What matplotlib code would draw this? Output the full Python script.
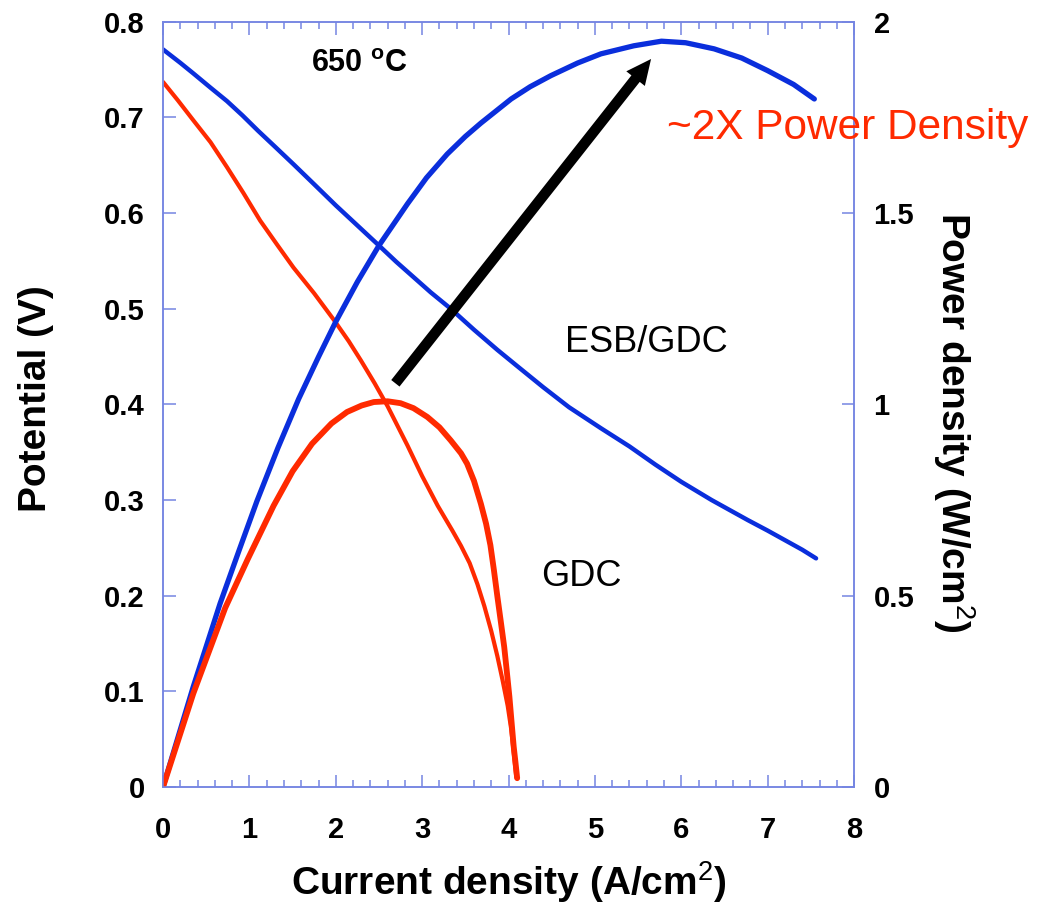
import matplotlib
matplotlib.use('Agg')
import matplotlib.pyplot as plt
from matplotlib.ticker import MultipleLocator

plt.rcParams['font.family'] = ['Liberation Sans', 'DejaVu Sans']
plt.rcParams['mathtext.fontset'] = 'custom'
plt.rcParams['mathtext.rm'] = 'Liberation Sans'
plt.rcParams['mathtext.bf'] = 'Liberation Sans:bold'
plt.rcParams['mathtext.it'] = 'Liberation Sans:italic'

# ---------------- data ----------------
# ESB/GDC cell: potential (V) vs current density (A/cm2)
esb_v_x = [0.0, 0.20, 0.35, 0.55, 0.74, 0.92, 1.10, 1.30, 1.51, 1.75, 2.00, 2.25, 2.50, 2.70, 2.90, 3.10, 3.33,
           3.60, 3.87, 4.10, 4.40, 4.70, 5.07, 5.40, 5.70, 6.00, 6.35, 6.77, 7.00, 7.20, 7.40, 7.56]
esb_v_y = [0.771, 0.757, 0.746, 0.731, 0.717, 0.702, 0.686, 0.669, 0.651, 0.630, 0.608, 0.587, 0.566, 0.549,
           0.533, 0.517, 0.500, 0.478, 0.457, 0.440, 0.418, 0.397, 0.375, 0.356, 0.337, 0.319, 0.300, 0.279,
           0.268, 0.258, 0.248, 0.239]
# ESB/GDC cell: power density (W/cm2)
esb_p_x = [0.0, 0.35, 0.66, 0.88, 1.087, 1.33, 1.57, 1.80, 2.00, 2.25, 2.50, 2.83, 3.05, 3.29, 3.50, 3.68, 4.03,
           4.25, 4.49, 4.80, 5.07, 5.45, 5.77, 6.05, 6.38, 6.70, 7.00, 7.30, 7.54]
esb_p_y = [0.0, 0.262, 0.479, 0.618, 0.747, 0.886, 1.014, 1.124, 1.216, 1.320, 1.415, 1.524, 1.592, 1.654, 1.700,
           1.735, 1.798, 1.830, 1.859, 1.892, 1.916, 1.937, 1.949, 1.945, 1.929, 1.905, 1.872, 1.836, 1.798]

# GDC cell: potential (V)
gdc_v_x = [0.0, 0.17, 0.35, 0.55, 0.74, 0.93, 1.125, 1.32, 1.51, 1.75, 1.98, 2.15, 2.29, 2.45, 2.60, 2.83, 3.00,
           3.18, 3.35, 3.45, 3.55, 3.64, 3.72, 3.80, 3.87, 3.93, 3.99, 4.03, 4.06, 4.09]
gdc_v_y = [0.737, 0.718, 0.697, 0.674, 0.648, 0.621, 0.592, 0.567, 0.543, 0.516, 0.488, 0.466, 0.446, 0.422,
           0.398, 0.357, 0.325, 0.294, 0.268, 0.252, 0.234, 0.212, 0.189, 0.163, 0.137, 0.112, 0.085, 0.061,
           0.036, 0.010]
# GDC cell: power density (W/cm2)
gdc_p_x = [0.0, 0.35, 0.72, 0.98, 1.28, 1.50, 1.725, 1.95, 2.13, 2.30, 2.44, 2.60, 2.75, 2.90, 3.06, 3.20, 3.33,
           3.45, 3.52, 3.60, 3.68, 3.74, 3.79, 3.83, 3.87, 3.91, 3.95, 3.98, 4.01, 4.035, 4.06, 4.08, 4.10]
gdc_p_y = [0.0, 0.244, 0.468, 0.595, 0.735, 0.825, 0.897, 0.950, 0.980, 0.997, 1.006, 1.008, 1.003, 0.990,
           0.967, 0.940, 0.906, 0.872, 0.845, 0.800, 0.740, 0.688, 0.632, 0.568, 0.499, 0.433, 0.366, 0.302,
           0.236, 0.170, 0.105, 0.065, 0.023]

x_ticks = [0, 1, 2, 3, 4, 5, 6, 7, 8]
x_tick_labels = ['0', '1', '2', '3', '4', '5', '6', '7', '8']
v_ticks = [0, 0.1, 0.2, 0.3, 0.4, 0.5, 0.6, 0.7, 0.8]
v_tick_labels = ['0', '0.1', '0.2', '0.3', '0.4', '0.5', '0.6', '0.7', '0.8']
p_ticks = [0, 0.5, 1.0, 1.5, 2.0]
p_tick_labels = ['0', '0.5', '1', '1.5', '2']

# ---------------- styling ----------------
RED = '#ff2a00'
BLUE = '#0a2edc'
SPINE = '#7585e2'

fig = plt.figure(figsize=(10.39, 9.15), dpi=100)
ax = fig.add_axes([0.1569, 0.1399, 0.6651, 0.8364])
ax2 = ax.twinx()

ax.set_xlim(0, 8)
ax.set_ylim(0, 0.8)
ax2.set_ylim(0, 2)

ax.plot(esb_v_x, esb_v_y, color=BLUE, lw=3.2, solid_capstyle='round', solid_joinstyle='round')
ax.plot(gdc_v_x, gdc_v_y, color=RED, lw=3.0, solid_capstyle='round', solid_joinstyle='round')
ax2.plot(esb_p_x, esb_p_y, color=BLUE, lw=3.8, solid_capstyle='round', solid_joinstyle='round')
ax2.plot(gdc_p_x, gdc_p_y, color=RED, lw=4.2, solid_capstyle='round', solid_joinstyle='round')

for a in (ax, ax2):
    for s in a.spines.values():
        s.set_color(SPINE)
        s.set_linewidth(1.1)

ax.set_xticks(x_ticks)
ax.set_xticklabels(x_tick_labels, fontsize=21, fontweight='bold')
ax.xaxis.set_minor_locator(MultipleLocator(0.2))
ax.tick_params(axis='x', which='both', direction='in', top=True, bottom=True,
               color=SPINE, width=1.1, labelcolor='black', pad=21)
ax.tick_params(axis='x', which='major', length=9)
ax.tick_params(axis='x', which='minor', length=5)

ax.set_yticks(v_ticks)
ax.set_yticklabels(v_tick_labels, fontsize=21, fontweight='bold')
ax.tick_params(axis='y', which='both', direction='in', left=True, right=False,
               color=SPINE, width=1.1, length=9, labelcolor='black', pad=13)

ax2.set_yticks(p_ticks)
ax2.set_yticklabels(p_tick_labels, fontsize=21, fontweight='bold')
ax2.tick_params(axis='y', which='both', direction='in', right=True, left=False,
                color=SPINE, width=1.1, length=9, labelcolor='black', pad=14)

ax.set_xlabel('Current density (A/cm$^{2}$)', fontsize=28, fontweight='bold', labelpad=11)
ax.set_ylabel('Potential (V)', fontsize=28, fontweight='bold', labelpad=36)
ax.yaxis.label.set_y(0.508)
ax2.set_ylabel('Power density (W/cm$^{2}$)', fontsize=28, fontweight='bold',
               rotation=270, va='bottom', labelpad=12)
ax2.yaxis.label.set_y(0.477)

# annotations (drawn on the top axes, power units)
ax2.text(2.27, 0.756 * 2.5, '650 $^{\\mathbf{o}}$C', fontsize=22, fontweight='bold',
         ha='center', va='center')
ax2.text(5.60, 0.465 * 2.5, 'ESB/GDC', fontsize=26, ha='center', va='center')
ax2.text(4.84, 0.220 * 2.5, 'GDC', fontsize=26, ha='center', va='center')
ax2.text(5.84, 0.689 * 2.5, '~2X Power Density', fontsize=30.5, color=RED,
         ha='left', va='center', clip_on=False)

ax2.annotate('', xy=(5.65, 0.761 * 2.5), xytext=(2.69, 0.422 * 2.5),
             xycoords='data', textcoords='data',
             arrowprops=dict(arrowstyle='simple,head_length=0.9,head_width=0.85,tail_width=0.38',
                             mutation_scale=20, color='black', shrinkA=0, shrinkB=0, lw=0))

fig.savefig('out.png', dpi=100)
